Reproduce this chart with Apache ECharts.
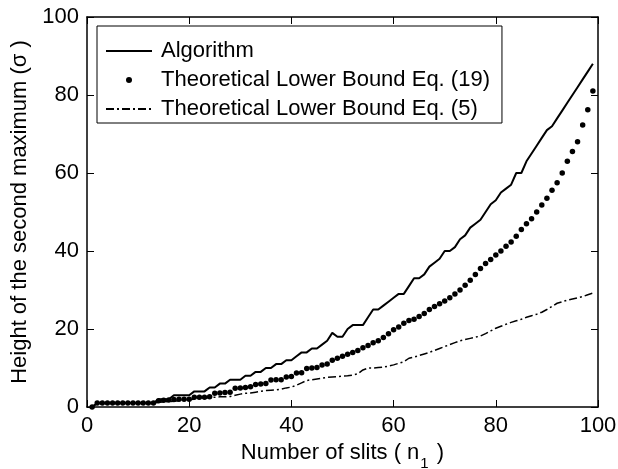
<!DOCTYPE html>
<html>
<head>
<meta charset="utf-8">
<script src="https://cdn.jsdelivr.net/npm/echarts@6/dist/echarts.min.js"></script>
<style>html,body{margin:0;padding:0;background:#fff}#c{width:618px;height:469px}</style>
</head>
<body>
<div id="c"></div>
<script>
const xValues = [
  1,2,3,4,5,6,7,8,9,10,
  11,12,13,14,15,16,17,18,19,20,
  21,22,23,24,25,26,27,28,29,30,
  31,32,33,34,35,36,37,38,39,40,
  41,42,43,44,45,46,47,48,49,50,
  51,52,53,54,55,56,57,58,59,60,
  61,62,63,64,65,66,67,68,69,70,
  71,72,73,74,75,76,77,78,79,80,
  81,82,83,84,85,86,87,88,89,90,
  91,92,93,94,95,96,97,98,99
];
const algorithm = [
  0,1,1,1,1,1,1,1,1,1,
  1,1,1,2,2,2,3,3,3,3,
  4,4,4,5,5,6,6,7,7,7,
  8,8,9,9,10,10,11,11,12,12,
  13,14,14,15,15,16,17,19,18,18,
  20,21,21,21,23,25,25,26,27,28,
  29,29,31,33,33,34,36,37,38,40,
  40,41,43,44,46,47,48,50,52,53,
  55,56,57,60,60,63,65,67,69,71,
  72,74,76,78,80,82,84,86,88
];
const boundEq19 = [
  0,1,1,1,1,1,1,1,1,1,
  1,1,1,1.6,1.7,1.8,1.9,2,2,2,
  2.5,2.5,2.5,2.6,3.5,3.6,3.7,3.8,4.8,4.9,
  5,5.2,5.8,5.9,6,6.9,7,7,7.7,7.8,
  8.7,8.8,9.9,10,10.1,10.8,11,12,12.5,13,
  13.5,14,14.5,15.2,15.8,16.5,17,17.8,18.8,19.8,
  20.5,21.5,22.2,22.5,23.2,24,25,25.8,26.5,27.2,
  28,29,30,31.2,32.5,34,35.5,36.8,37.8,39,
  40,41.2,42.3,43.8,45.5,47,48.3,50,51.8,53.5,
  55.6,57.5,60,63,65.5,68,72.3,76.2,81
];
const boundEq5 = [
  0,1,1,1,1,1,1,1,1,1,
  1,1,1,1.2,1.3,1.4,1.5,1.6,1.8,1.9,
  2,2.2,2.3,2.4,2.5,2.6,2.6,2.7,3,3.3,
  3.5,3.6,3.8,4,4.2,4.3,4.4,4.6,4.9,5.1,
  5.6,6.2,6.8,7,7.2,7.4,7.6,7.7,7.8,7.9,
  8,8.2,8.5,9.5,10,10,10.1,10.2,10.5,10.8,
  11.2,11.6,12.5,12.8,13.2,13.6,14,14.5,15,15.5,
  16,16.5,17,17.3,17.6,17.9,18.2,18.8,19.5,20.2,
  20.7,21.2,21.7,22.1,22.5,23,23.4,23.8,24.3,25,
  25.8,26.6,27,27.4,27.7,28,28.3,28.8,29.2
];
const seriesNames = ['Algorithm', 'Theoretical Lower Bound Eq. (19)', 'Theoretical Lower Bound Eq. (5)'];
const xTicks = {min: 0, max: 100, interval: 20};
const yTicks = {min: 0, max: 100, interval: 20};

const pairs = ys => xValues.map((x, i) => [x, ys[i]]);
const FONT = '"Liberation Sans", Arial, sans-serif';
const black = '#000';
const tickStyle = {show: true, inside: true, length: 7, lineStyle: {color: black, width: 1}};
const lineStyleAxis = {show: true, onZero: false, lineStyle: {color: black, width: 1.5}};
const labelStyle = {color: black, fontFamily: FONT, fontSize: 22};

const chart = echarts.init(document.getElementById('c'), null, {renderer: 'canvas'});
chart.setOption({
  animation: false,
  backgroundColor: '#fff',
  grid: {left: 87, right: 20, top: 17, bottom: 62, containLabel: false, outerBoundsMode: 'none'},
  legend: {
    orient: 'vertical',
    left: 97, top: 26,
    padding: [14, 12, 3, 8],
    borderColor: black, borderWidth: 1,
    backgroundColor: '#fff',
    itemWidth: 46, itemHeight: 6, itemGap: 7,
    textStyle: {color: black, fontFamily: FONT, fontSize: 22, lineHeight: 22, padding: [0, 0, 0, 4]},
    data: [
      {name: seriesNames[0], itemStyle: {opacity: 0}},
      {name: seriesNames[1], itemStyle: {opacity: 1}},
      {name: seriesNames[2], itemStyle: {opacity: 0}}
    ],
    selectedMode: false
  },
  xAxis: [
    {type: 'value', position: 'bottom', min: xTicks.min, max: xTicks.max, interval: xTicks.interval,
     axisLine: lineStyleAxis, axisTick: tickStyle, splitLine: {show: false},
     axisLabel: Object.assign({margin: 8}, labelStyle),
     name: '{a|Number of slits ( n}{s|1}{a| )}',
     nameLocation: 'middle', nameGap: 33,
     nameTextStyle: {rich: {
       a: {color: black, fontFamily: FONT, fontSize: 22, lineHeight: 26, verticalAlign: 'top'},
       s: {color: black, fontFamily: FONT, fontSize: 15, lineHeight: 26, padding: [14, 2, 0, 1], verticalAlign: 'top'}
     }}},
    {type: 'value', position: 'top', min: xTicks.min, max: xTicks.max, interval: xTicks.interval,
     axisLine: lineStyleAxis, axisTick: tickStyle, splitLine: {show: false}, axisLabel: {show: false}}
  ],
  yAxis: [
    {type: 'value', position: 'left', min: yTicks.min, max: yTicks.max, interval: yTicks.interval,
     axisLine: lineStyleAxis, axisTick: tickStyle, splitLine: {show: false},
     axisLabel: Object.assign({margin: 8}, labelStyle),
     name: 'Height of the second maximum (σ )',
     nameLocation: 'middle', nameGap: 52, nameRotate: 90,
     nameTextStyle: {color: black, fontFamily: FONT, fontSize: 22}},
    {type: 'value', position: 'right', min: yTicks.min, max: yTicks.max, interval: yTicks.interval,
     axisLine: lineStyleAxis, axisTick: tickStyle, splitLine: {show: false}, axisLabel: {show: false}}
  ],
  series: [
    {name: seriesNames[0], type: 'line', data: pairs(algorithm), showSymbol: false, symbol: 'none',
     lineStyle: {color: black, width: 2}, itemStyle: {color: black}, z: 3},
    {name: seriesNames[1], type: 'scatter', data: pairs(boundEq19), symbol: 'circle', symbolSize: 5.5,
     itemStyle: {color: black, opacity: 1}, z: 2},
    {name: seriesNames[2], type: 'line', data: pairs(boundEq5), showSymbol: false, symbol: 'none',
     lineStyle: {color: black, width: 1.5, type: [8, 3, 2, 3]}, itemStyle: {color: black}, z: 2}
  ]
});
</script>
</body>
</html>
